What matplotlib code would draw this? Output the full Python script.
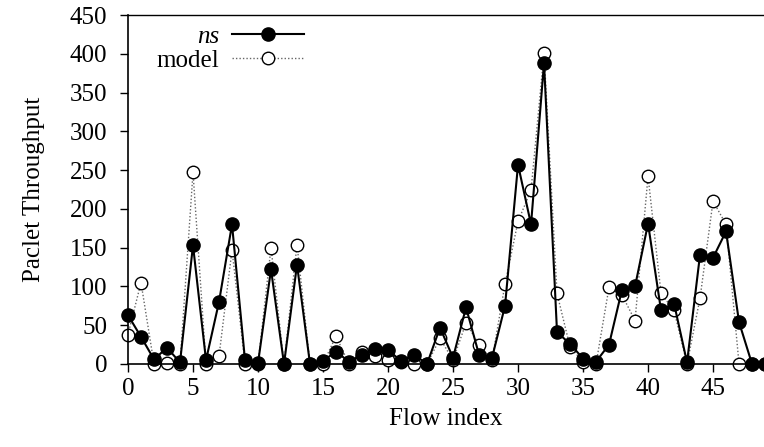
import numpy as np
import matplotlib
matplotlib.use("Agg")
import matplotlib.pyplot as plt

plt.rcParams['font.family'] = ['Liberation Serif', 'DejaVu Serif']

# flow index 0..49
flow_index = list(range(50))

ns_values = [63, 35, 6, 21, 2, 153, 5, 80, 180, 5,
             1, 122, 0, 128, 0, 4, 16, 3, 12, 19,
             18, 4, 12, 0, 47, 8, 73, 12, 8, 75,
             257, 180, 388, 41, 26, 7, 3, 25, 96, 100,
             181, 69, 78, 2, 141, 137, 171, 54, 0, 0]

model_values = [38, 105, 0, 1, 0, 247, 0, 10, 147, 0,
                0, 150, 0, 154, 0, 0, 36, 0, 16, 10,
                5, 2, 0, 0, 33, 5, 53, 25, 5, 103,
                184, 224, 401, 91, 22, 3, 0, 99, 89, 56,
                242, 91, 69, 0, 85, 210, 180, 0, 0, 0]

y_ticks = [0, 50, 100, 150, 200, 250, 300, 350, 400, 450]
x_ticks = [0, 5, 10, 15, 20, 25, 30, 35, 40, 45]

fig = plt.figure(figsize=(7.64, 4.47), dpi=100)
ax = fig.add_axes([128/764, (447-364)/447, 1 - 128/764, (364-15)/447])

ax.plot(flow_index, model_values, linestyle=(0, (1, 1.5)), color='#666666', linewidth=1.0,
        marker='o', markersize=9, markerfacecolor='white', markeredgecolor='black',
        markeredgewidth=1.0, clip_on=False, label='model', zorder=2)
ax.plot(flow_index, ns_values, linestyle='-', color='black', linewidth=1.5,
        marker='o', markersize=9.5, markerfacecolor='black', markeredgecolor='black',
        clip_on=False, label='ns', zorder=3)

ax.set_xlim(0, 48.92)
ax.set_ylim(0, 450)
ax.set_xticks(x_ticks)
ax.set_yticks(y_ticks)
ax.tick_params(direction='out', length=6, width=1, labelsize=18)
ax.tick_params(axis='x', pad=4)
ax.tick_params(axis='y', pad=9)
ax.spines['right'].set_visible(False)
ax.spines['top'].set_linewidth(1.0)
ax.spines['left'].set_linewidth(1.2)
ax.spines['bottom'].set_linewidth(1.2)

ax.set_xlabel('Flow index', fontsize=18, labelpad=6)
ax.set_ylabel('Paclet Throughput', fontsize=18, labelpad=18)

handles, labels = ax.get_legend_handles_labels()
leg = ax.legend(handles[::-1], labels[::-1], loc='upper left', bbox_to_anchor=(0.045, 0.97),
                frameon=False, markerfirst=False, fontsize=18, handlelength=2.9,
                labelspacing=0.05, handletextpad=0.5, borderaxespad=0, borderpad=0)
leg.get_texts()[0].set_style('italic')
for t in leg.get_texts():
    t.set_ha('right')
leg._legend_box.align = 'right'

fig.savefig('out.png', dpi=100)
